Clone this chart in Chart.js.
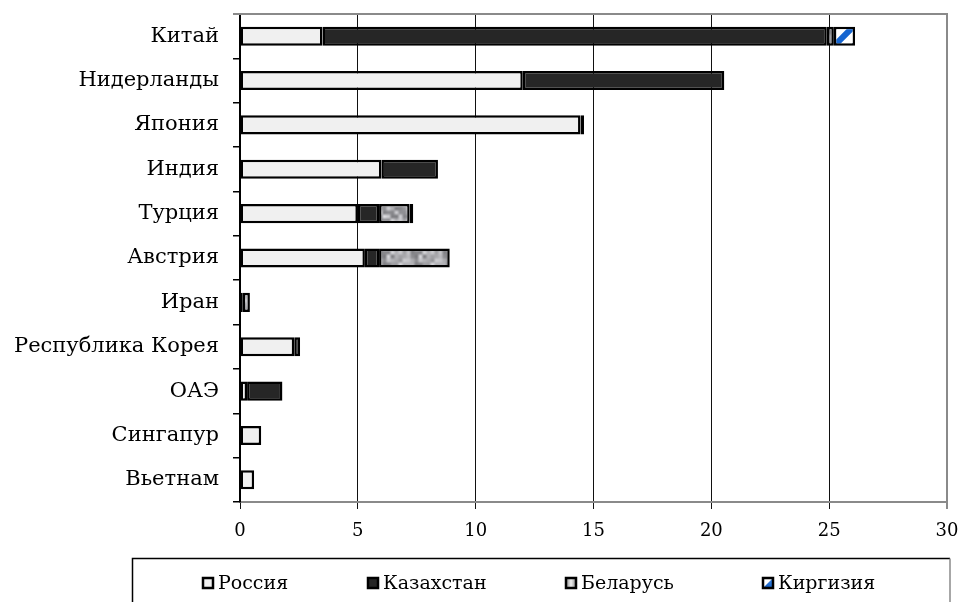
<!DOCTYPE html>
<html lang="ru">
<head>
<meta charset="utf-8">
<title>Экспорт по странам</title>
<script src="https://cdn.jsdelivr.net/npm/chart.js@4/dist/chart.umd.min.js"></script>
<style>
  html, body { margin: 0; padding: 0; background: #fff; }
  #wrap { width: 960px; height: 602px; position: relative; }
</style>
</head>
<body>
<div id="wrap"><canvas id="c" width="960" height="602"></canvas></div>
<script>
// Categories (top to bottom) and stacked series values
const categories = ['Китай', 'Нидерланды', 'Япония', 'Индия', 'Турция', 'Австрия',
                    'Иран', 'Республика Корея', 'ОАЭ', 'Сингапур', 'Вьетнам'];
const russia     = [3.5, 12.0, 14.45, 6.0, 5.0, 5.3, null, 2.3, 0.3, 0.9, 0.6];
const kazakhstan = [21.4, 8.55, 0.15, 2.4, 0.9, 0.6, 0.12, 0.25, 1.5, null, null];
const belarus    = [0.3, null, null, null, 1.3, 3.0, 0.3, null, null, null, null];
const kyrgyzstan = [0.9, null, null, null, 0.15, null, null, null, null, null, null];
const seriesNames = ['Россия', 'Казахстан', 'Беларусь', 'Киргизия'];
const xTicks = [0, 5, 10, 15, 20, 25, 30];

const SERIF = '"DejaVu Serif", "Liberation Serif", serif';

// Mottled grey texture (deterministic value noise, tiled)
function mottledPattern() {
  const n = 32, cell = 4, g = n / cell;
  const cv = document.createElement('canvas');
  cv.width = n; cv.height = n;
  const c = cv.getContext('2d');
  const h = (i, j) => {
    const s = Math.sin(((i % g + g) % g) * 12.9898 + ((j % g + g) % g) * 78.233) * 43758.5453;
    return s - Math.floor(s);
  };
  const img = c.createImageData(n, n);
  for (let y = 0; y < n; y++) {
    for (let x = 0; x < n; x++) {
      const gx = x / cell, gy = y / cell;
      const i = Math.floor(gx), j = Math.floor(gy);
      const fx = gx - i, fy = gy - j;
      const sx = fx * fx * (3 - 2 * fx), sy = fy * fy * (3 - 2 * fy);
      const v = (h(i, j) * (1 - sx) + h(i + 1, j) * sx) * (1 - sy) +
                (h(i, j + 1) * (1 - sx) + h(i + 1, j + 1) * sx) * sy;
      const k = Math.round(125 + 95 * v);
      const p = (y * n + x) * 4;
      img.data[p] = k; img.data[p + 1] = k; img.data[p + 2] = k + 4; img.data[p + 3] = 255;
    }
  }
  c.putImageData(img, 0, 0);
  return c.createPattern(cv, 'repeat');
}

// White tile with a blue diagonal stripe
function stripePattern() {
  const n = 20;
  const cv = document.createElement('canvas');
  cv.width = n; cv.height = n;
  const c = cv.getContext('2d');
  c.fillStyle = '#ffffff';
  c.fillRect(0, 0, n, n);
  c.strokeStyle = '#1565d0';
  c.lineWidth = 6;
  c.beginPath();
  c.moveTo(-2, n + 2); c.lineTo(n + 2, -2);
  c.moveTo(-n / 2 - 2, n / 2 + 2); c.lineTo(n / 2 + 2, -n / 2 - 2);
  c.moveTo(n / 2 - 2, n * 1.5 + 2); c.lineTo(n * 1.5 + 2, n / 2 - 2);
  c.stroke();
  return c.createPattern(cv, 'repeat');
}

const fills = ['#f0f0f0', '#262626', mottledPattern(), stripePattern()];
const seriesData = [russia, kazakhstan, belarus, kyrgyzstan];

// Plot frame: grey top edge
const frameTop = {
  id: 'frameTop',
  afterDraw(chart) {
    const { ctx, chartArea: a } = chart;
    ctx.save();
    ctx.strokeStyle = '#8a8a8a';
    ctx.lineWidth = 2;
    ctx.beginPath();
    ctx.moveTo(a.left - 7, a.top);
    ctx.lineTo(a.right + 1, a.top);
    ctx.stroke();
    ctx.restore();
  }
};

// Boxed legend under the axis
const boxLegend = {
  id: 'boxLegend',
  afterDraw(chart) {
    const ctx = chart.ctx;
    ctx.save();
    // frame
    ctx.lineWidth = 1.5;
    ctx.strokeStyle = '#000';
    ctx.beginPath();
    ctx.moveTo(132.5, 620); ctx.lineTo(132.5, 558.5); ctx.lineTo(950, 558.5);
    ctx.stroke();
    ctx.strokeStyle = '#8a8a8a';
    ctx.beginPath();
    ctx.moveTo(950, 558.5); ctx.lineTo(950, 620);
    ctx.stroke();

    const xs = [202, 367, 565, 762];
    const sy = 577;
    ctx.font = '19px ' + SERIF;
    ctx.textBaseline = 'alphabetic';
    ctx.fillStyle = '#000';
    chart.data.datasets.forEach((ds, i) => {
      const x = xs[i];
      // swatch
      if (i === 0) { ctx.fillStyle = '#f0f0f0'; ctx.fillRect(x, sy, 12, 12); }
      else if (i === 1) { ctx.fillStyle = '#262626'; ctx.fillRect(x, sy, 12, 12); }
      else if (i === 2) {
        const g = ctx.createLinearGradient(x, 0, x + 12, 0);
        g.addColorStop(0, '#7a7a7a'); g.addColorStop(0.5, '#eeeeee'); g.addColorStop(1, '#7a7a7a');
        ctx.fillStyle = g; ctx.fillRect(x, sy, 12, 12);
      } else {
        ctx.fillStyle = '#ffffff'; ctx.fillRect(x, sy, 12, 12);
        const g = ctx.createLinearGradient(x, sy + 12, x + 12, sy);
        g.addColorStop(0, '#0a4fb0'); g.addColorStop(1, '#3d8ef0');
        ctx.fillStyle = g;
        ctx.beginPath();
        ctx.moveTo(x + 12, sy); ctx.lineTo(x + 12, sy + 12); ctx.lineTo(x, sy + 12);
        ctx.closePath(); ctx.fill();
      }
      ctx.lineWidth = 2.5;
      ctx.strokeStyle = '#000';
      ctx.strokeRect(x + 1, sy + 1, 10, 10);
      ctx.fillStyle = '#000';
      ctx.fillText(ds.label, x + 16, 589);
    });
    ctx.restore();
  }
};

new Chart(document.getElementById('c'), {
  type: 'bar',
  data: {
    labels: categories,
    datasets: seriesData.map((d, i) => ({
      label: seriesNames[i],
      data: d,
      backgroundColor: fills[i],
      borderColor: '#000',
      borderWidth: 2.5,
      borderSkipped: false,
      categoryPercentage: 1.0,
      barPercentage: 0.43
    }))
  },
  options: {
    indexAxis: 'y',
    responsive: false,
    animation: false,
    layout: { padding: { left: 0, right: 13, top: 14, bottom: 56 } },
    plugins: {
      legend: { display: false },
      tooltip: { enabled: false }
    },
    scales: {
      x: {
        stacked: true,
        min: 0, max: 30,
        afterBuildTicks(scale) { scale.ticks = xTicks.map(v => ({ value: v })); },
        afterFit(scale) {
          scale.height = 44;
          scale.paddingLeft = 0; scale.paddingRight = 0;
        },
        ticks: { color: '#000', font: { family: SERIF, size: 18 }, padding: 12 },
        grid: {
          color: (c) => (c.tick && c.tick.value === 30 ? '#8a8a8a' : '#111'),
          lineWidth: (c) => (c.tick && c.tick.value === 30 ? 2 : 1),
          drawTicks: true,
          tickLength: 7
        },
        border: { color: '#8a8a8a', width: 2 }
      },
      y: {
        stacked: true,
        afterFit(scale) {
          scale.width = 240;
          scale.paddingTop = 0; scale.paddingBottom = 0;
        },
        ticks: { color: '#000', font: { family: SERIF, size: 21 }, padding: 14 },
        grid: {
          drawOnChartArea: false,
          drawTicks: true,
          tickLength: 7,
          color: '#000',
          lineWidth: 1.5
        },
        border: { color: '#000', width: 2 }
      }
    }
  },
  plugins: [frameTop, boxLegend]
});
</script>
</body>
</html>
